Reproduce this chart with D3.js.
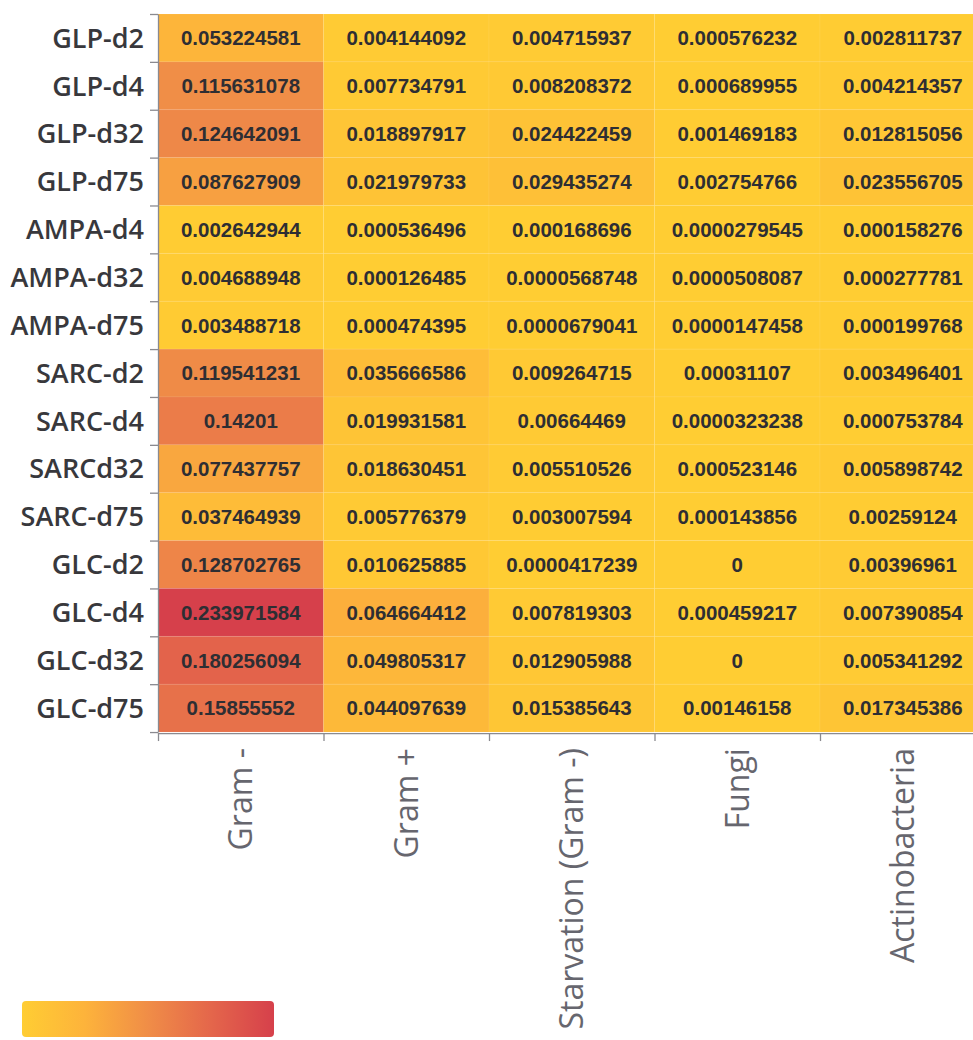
<!DOCTYPE html>
<html>
<head>
<meta charset="utf-8">
<script src="https://cdn.jsdelivr.net/npm/d3@7"></script>
<style>
  body { margin: 0; background: #fff; overflow: hidden; }
  .cell-text { font-family: "Liberation Sans", Arial, sans-serif; font-weight: bold; font-size: 20.5px; fill: #2e2e33; }
  .row-label { font-family: "Open Sans", sans-serif; font-size: 27px; font-weight: 600; fill: #38383c; }
  .col-label { font-family: "Open Sans", sans-serif; font-size: 32px; fill: #66666e; }
</style>
</head>
<body>
<svg id="heatmap"></svg>
<script>
let rows = ['GLP-d2', 'GLP-d4', 'GLP-d32', 'GLP-d75', 'AMPA-d4', 'AMPA-d32', 'AMPA-d75',
    'SARC-d2', 'SARC-d4', 'SARCd32', 'SARC-d75', 'GLC-d2', 'GLC-d4', 'GLC-d32', 'GLC-d75'];
let columns = ['Gram -', 'Gram +', 'Starvation (Gram -)', 'Fungi', 'Actinobacteria'];

// one array per column, in row order; kept as strings so they print as in the source
let gramNeg = ['0.053224581', '0.115631078', '0.124642091', '0.087627909', '0.002642944', '0.004688948',
    '0.003488718', '0.119541231', '0.14201', '0.077437757', '0.037464939', '0.128702765', '0.233971584',
    '0.180256094', '0.15855552'];
let gramPos = ['0.004144092', '0.007734791', '0.018897917', '0.021979733', '0.000536496', '0.000126485',
    '0.000474395', '0.035666586', '0.019931581', '0.018630451', '0.005776379', '0.010625885', '0.064664412',
    '0.049805317', '0.044097639'];
let starvation = ['0.004715937', '0.008208372', '0.024422459', '0.029435274', '0.000168696', '0.0000568748',
    '0.0000679041', '0.009264715', '0.00664469', '0.005510526', '0.003007594', '0.0000417239', '0.007819303',
    '0.012905988', '0.015385643'];
let fungi = ['0.000576232', '0.000689955', '0.001469183', '0.002754766', '0.0000279545', '0.0000508087',
    '0.0000147458', '0.00031107', '0.0000323238', '0.000523146', '0.000143856', '0', '0.000459217',
    '0', '0.00146158'];
let actino = ['0.002811737', '0.004214357', '0.012815056', '0.023556705', '0.000158276', '0.000277781',
    '0.000199768', '0.003496401', '0.000753784', '0.005898742', '0.00259124', '0.00396961', '0.007390854',
    '0.005341292', '0.017345386'];

let seriesByColumn = [gramNeg, gramPos, starvation, fungi, actino];
let colorStops = ['#ffcd33', '#fdb33b', '#f08d47', '#e4664b', '#d6404b'];

let cells = [];
seriesByColumn.forEach(function (series, ci) {
    series.forEach(function (v, ri) {
        cells.push({row: rows[ri], col: columns[ci], label: v, value: +v});
    });
});

let margin = {top: 14, left: 158};
let cellW = 165.5;
let cellH = 47.87;
let width = cellW * columns.length;
let height = cellH * rows.length;

let svg = d3.select('#heatmap')
    .attr('width', 973)
    .attr('height', 1040);

let g = svg.append('g')
    .attr('transform', 'translate(' + margin.left + ',' + margin.top + ')');

let xScale = d3.scaleBand().domain(columns).range([0, width]);
let yScale = d3.scaleBand().domain(rows).range([0, height]);

let maxVal = d3.max(cells, function (d) { return d.value; });
let colorScale = d3.scaleLinear()
    .domain(colorStops.map(function (c, i) { return maxVal * i / (colorStops.length - 1); }))
    .range(colorStops);

g.selectAll('rect.cell')
    .data(cells)
    .enter()
    .append('rect')
    .attr('class', 'cell')
    .attr('x', function (d) { return xScale(d.col); })
    .attr('y', function (d) { return yScale(d.row); })
    .attr('width', xScale.bandwidth())
    .attr('height', yScale.bandwidth())
    .style('fill', function (d) { return colorScale(d.value); })
    .style('stroke', 'rgba(255,255,255,0.06)')
    .style('stroke-width', 1);

g.selectAll('text.cell-text')
    .data(cells)
    .enter()
    .append('text')
    .attr('class', 'cell-text')
    .attr('x', function (d) { return xScale(d.col) + xScale.bandwidth() / 2; })
    .attr('y', function (d) { return yScale(d.row) + yScale.bandwidth() / 2; })
    .attr('dy', '0.36em')
    .attr('text-anchor', 'middle')
    .text(function (d) { return d.label; });

// tick marks sit on the cell boundaries, labels in the middle of each band
let yTicks = d3.scaleLinear().domain([0, rows.length]).range([0, height]);
let xTicks = d3.scaleLinear().domain([0, columns.length]).range([0, width]);

let yAxis = g.append('g')
    .call(d3.axisLeft(yTicks).ticks(rows.length).tickSize(8).tickSizeOuter(0).tickFormat(''));
let xAxis = g.append('g')
    .attr('transform', 'translate(0,' + (height + 1) + ')')
    .call(d3.axisBottom(xTicks).ticks(columns.length).tickSize(8).tickSizeOuter(0).tickFormat(''));
[yAxis, xAxis].forEach(function (a) {
    a.selectAll('path, line').attr('stroke', '#8a8a90').attr('stroke-width', 1.3);
});

g.selectAll('text.row-label')
    .data(rows)
    .enter()
    .append('text')
    .attr('class', 'row-label')
    .attr('x', -14)
    .attr('y', function (d) { return yScale(d) + yScale.bandwidth() / 2; })
    .attr('dy', '0.36em')
    .attr('text-anchor', 'end')
    .text(function (d) { return d; });

g.selectAll('text.col-label')
    .data(columns)
    .enter()
    .append('text')
    .attr('class', 'col-label')
    .attr('transform', function (d) {
        let cx = xScale(d) + xScale.bandwidth() / 2;
        return 'translate(' + cx + ',' + (height + 16) + ') rotate(-90)';
    })
    .attr('dy', '0.36em')
    .attr('text-anchor', 'end')
    .text(function (d) { return d; });

// colour legend
let defs = svg.append('defs');
let grad = defs.append('linearGradient').attr('id', 'legend-grad');
grad.selectAll('stop')
    .data(colorStops)
    .enter()
    .append('stop')
    .attr('offset', function (d, i) { return (i / (colorStops.length - 1) * 100) + '%'; })
    .attr('stop-color', function (d) { return d; });

svg.append('rect')
    .attr('x', 22)
    .attr('y', 1001)
    .attr('width', 252)
    .attr('height', 36)
    .attr('rx', 4)
    .style('fill', 'url(#legend-grad)');
</script>
</body>
</html>
